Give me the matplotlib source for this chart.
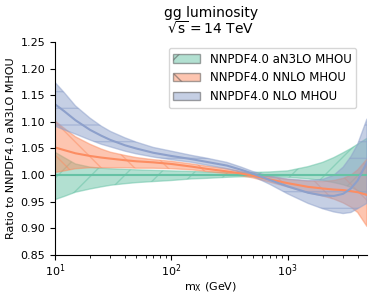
# -*- coding: utf-8 -*-
import matplotlib
matplotlib.use("Agg")
import matplotlib.pyplot as plt
import matplotlib as mpl
from matplotlib.patches import Patch

# datos
masses = [10, 12, 15, 20, 25, 30, 40, 50, 70, 100, 150, 200, 300, 400, 500,
          700, 1000, 1500, 2000, 2500, 3000, 3500, 4000, 4800]

an3lo_cv = [1.0] * len(masses)
an3lo_up = [1.043, 1.033, 1.021, 1.015, 1.013, 1.012, 1.011, 1.010, 1.009, 1.008,
            1.007, 1.006, 1.005, 1.005, 1.005, 1.006, 1.008, 1.016, 1.024, 1.033,
            1.042, 1.050, 1.058, 1.069]
an3lo_lo = [0.954, 0.960, 0.968, 0.974, 0.978, 0.981, 0.984, 0.986, 0.988, 0.990,
            0.993, 0.994, 0.996, 0.997, 0.997, 0.997, 0.996, 0.993, 0.990, 0.986,
            0.982, 0.977, 0.971, 0.962]

nnlo_cv = [1.052, 1.047, 1.041, 1.036, 1.033, 1.031, 1.028, 1.026, 1.024, 1.021,
           1.016, 1.012, 1.007, 1.003, 0.999, 0.992, 0.985, 0.978, 0.975, 0.973,
           0.972, 0.970, 0.968, 0.963]
nnlo_up = [1.102, 1.088, 1.072, 1.058, 1.049, 1.043, 1.037, 1.033, 1.029, 1.026,
           1.021, 1.017, 1.012, 1.007, 1.003, 0.997, 0.992, 0.989, 0.988, 0.990,
           0.994, 1.000, 1.010, 1.030]
nnlo_lo = [1.005, 1.008, 1.012, 1.014, 1.014, 1.014, 1.014, 1.013, 1.013, 1.012,
           1.010, 1.007, 1.003, 0.999, 0.995, 0.987, 0.978, 0.967, 0.961, 0.955,
           0.948, 0.940, 0.930, 0.904]

nlo_cv = [1.133, 1.120, 1.103, 1.085, 1.074, 1.066, 1.056, 1.050, 1.042, 1.036,
          1.030, 1.025, 1.018, 1.010, 1.003, 0.991, 0.979, 0.967, 0.962, 0.961,
          0.965, 0.975, 0.990, 1.024]
nlo_up = [1.174, 1.155, 1.130, 1.107, 1.092, 1.082, 1.070, 1.062, 1.052, 1.045,
          1.037, 1.032, 1.024, 1.015, 1.007, 0.998, 0.993, 0.990, 0.992, 1.000,
          1.015, 1.035, 1.058, 1.105]
nlo_lo = [1.092, 1.085, 1.077, 1.066, 1.058, 1.053, 1.045, 1.040, 1.034, 1.029,
          1.024, 1.019, 1.012, 1.005, 0.998, 0.983, 0.965, 0.947, 0.937, 0.931,
          0.928, 0.930, 0.937, 0.947]

labels = ["NNPDF4.0 aN3LO MHOU", "NNPDF4.0 NNLO MHOU", "NNPDF4.0 NLO MHOU"]
colors = ["#66c2a5", "#fc8d62", "#8da0cb"]
hatches = ["/", "\\", "-"]

mpl.rc('font', size=8)
mpl.rc('mathtext', default='regular')

fig, ax = plt.subplots(figsize=(3.74, 2.97), dpi=100)
fig.subplots_adjust(left=0.147, right=0.981, top=0.859, bottom=0.141)

series = [(an3lo_cv, an3lo_lo, an3lo_up),
          (nnlo_cv, nnlo_lo, nnlo_up),
          (nlo_cv, nlo_lo, nlo_up)]

handles = []
for (cv, lo, hi), c, h, lab in zip(series, colors, hatches, labels):
    ax.fill_between(masses, lo, hi, color=c, alpha=0.5, hatch=h, linewidth=1.0)
    ax.plot(masses, cv, color=c, linewidth=1.5)
    handles.append(Patch(facecolor=c, alpha=0.5, edgecolor="0.3", hatch=h, label=lab))

ax.set_xscale("log")
ax.set_xlim(10, 4800)
ax.set_ylim(0.85, 1.25)
ax.set_yticks([0.85, 0.90, 0.95, 1.00, 1.05, 1.10, 1.15, 1.20, 1.25])
ax.tick_params(axis='x', which='major', pad=2)
ax.spines['top'].set_visible(False)
ax.spines['right'].set_visible(False)

ax.set_title("gg luminosity\n$\\sqrt{s} = 14$ TeV", fontsize=10, pad=6, linespacing=1.0)
ax.set_xlabel("$m_{X}$ (GeV)", labelpad=1)
ax.set_ylabel("Ratio to NNPDF4.0 aN3LO MHOU", labelpad=3)
ax.legend(handles=handles, loc="upper right", fontsize=8.5, framealpha=0.8,
          handlelength=2.3, bbox_to_anchor=(0.985, 1.0))

fig.savefig("out.png", dpi=100)
plt.close('all')
